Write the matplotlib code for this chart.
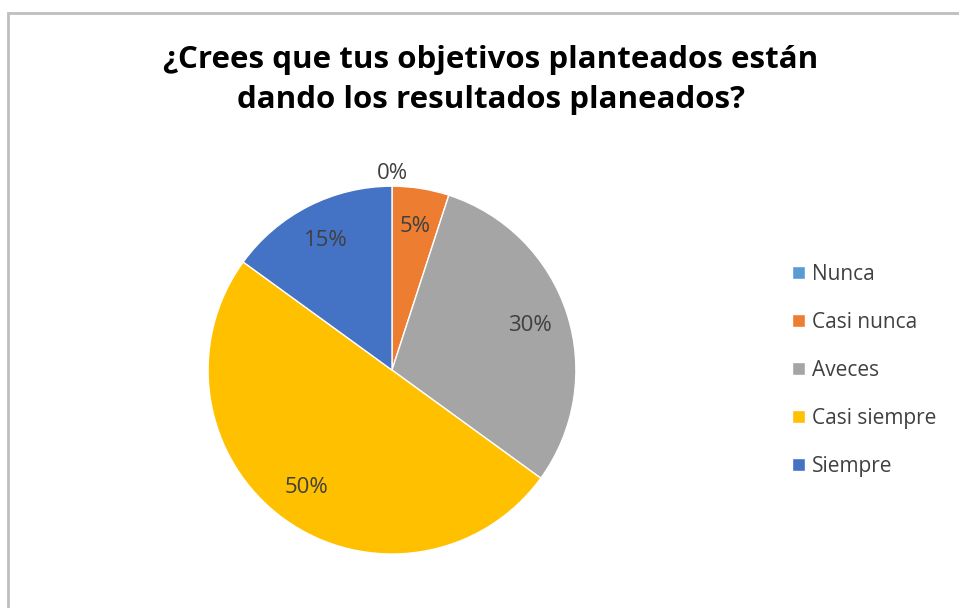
import matplotlib
matplotlib.use("Agg")
import matplotlib.pyplot as plt
import numpy as np

# data
categories = ["Nunca", "Casi nunca", "Aveces", "Casi siempre", "Siempre"]
values = [0, 5, 30, 50, 15]
colors = ["#5B9BD5", "#ED7D31", "#A5A5A5", "#FFC000", "#4472C4"]
title = "¿Crees que tus objetivos planteados están\ndando los resultados planeados?"

plt.rcParams['font.family'] = ['Open Sans', 'DejaVu Sans']

fig = plt.figure(figsize=(9.59, 6.08), dpi=100)
fig.patch.set_facecolor("white")

# frame like the office chart border
frame = plt.Rectangle((8 / 959, -0.01), 1.0, 1 - 13 / 608 + 0.01, transform=fig.transFigure,
                      fill=False, edgecolor="#BFBFBF", linewidth=2)
fig.patches.append(frame)

ax = fig.add_axes([0.2169, 0.0888, 0.3837, 0.605])
wedges, texts, autotexts = ax.pie(values, colors=colors, startangle=90, counterclock=False,
                                  autopct="%d%%", pctdistance=0.79,
                                  wedgeprops=dict(edgecolor="white", linewidth=1),
                                  textprops=dict(fontsize=16, color="#404040"))
ax.set_aspect("equal")
ax.set_xlim(-1, 1)
ax.set_ylim(-1, 1)

# zero slice label sits outside the pie
for w, t, v in zip(wedges, autotexts, values):
    if v == 0:
        ang = np.deg2rad((w.theta1 + w.theta2) / 2)
        t.set_position((1.07 * np.cos(ang), 1.07 * np.sin(ang)))

fig.text(0.512, 0.868, title, ha="center", va="center", fontsize=22.5, fontweight="bold",
         color="black", linespacing=1.45)

leg = fig.legend(wedges, categories, loc="center left", bbox_to_anchor=(0.826, 0.391),
                 frameon=False, fontsize=15, handlelength=0.6, handleheight=0.6,
                 handletextpad=0.35, labelspacing=1.3, borderpad=0, borderaxespad=0,
                 labelcolor="#404040")

fig.savefig("out.png", dpi=100)
